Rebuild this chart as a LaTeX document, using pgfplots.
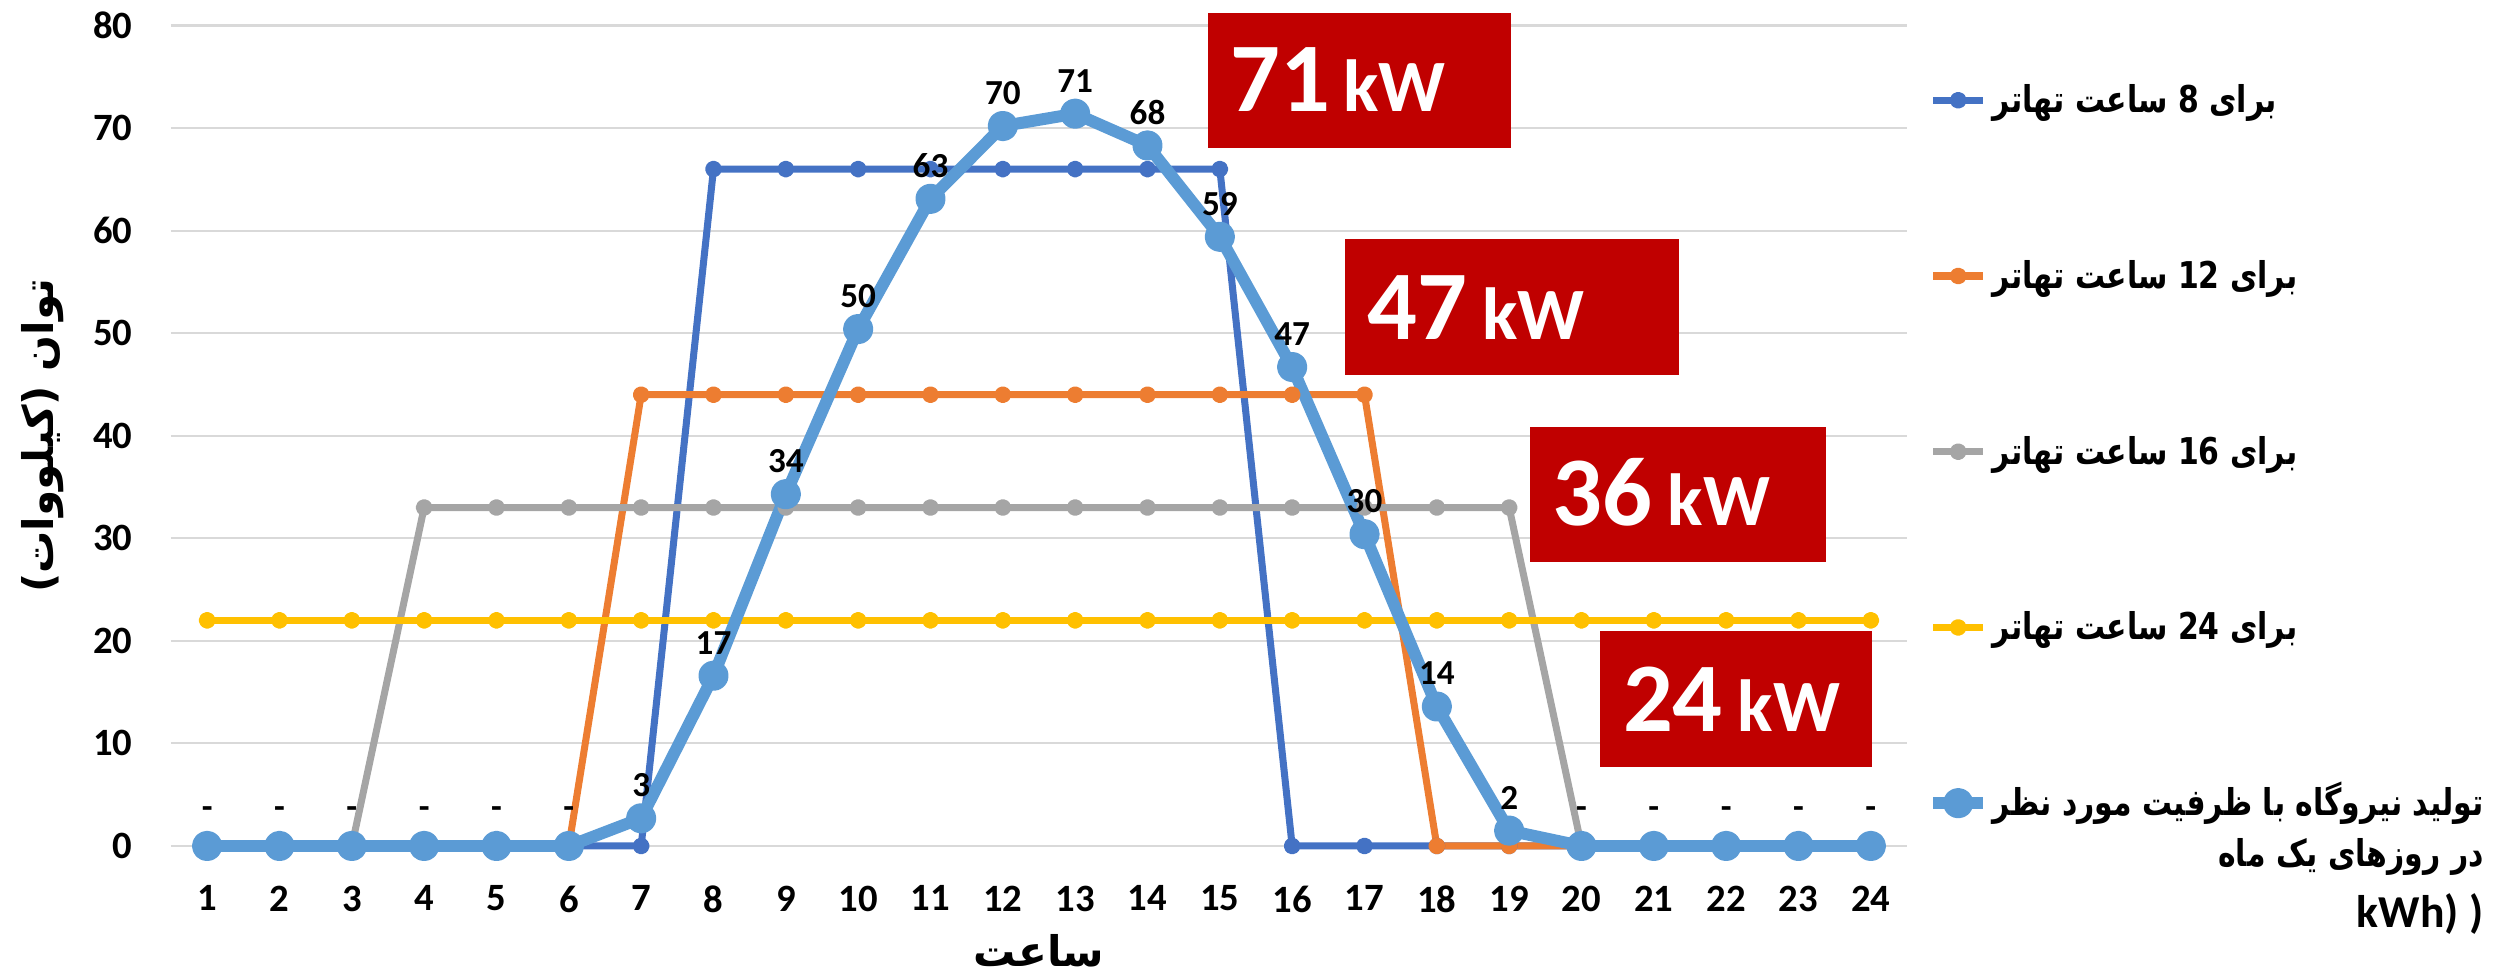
\documentclass[border=0pt]{standalone}
\usepackage{pgfplots}
\pgfplotsset{compat=1.18}
\usepackage{pgfplotstable}
\usepackage{fontspec}
\setmainfont{Carlito}
\newfontfamily\arabicfont[Script=Arabic]{DejaVu Sans}
\newfontfamily\arabicnarrow[Script=Arabic, FakeStretch=0.81]{DejaVu Sans Bold}
\TeXXeTstate=1
\definecolor{cA}{HTML}{4472C4}
\definecolor{cB}{HTML}{ED7D31}
\definecolor{cC}{HTML}{A5A5A5}
\definecolor{cD}{HTML}{FFC000}
\definecolor{cE}{HTML}{5B9BD5}
\definecolor{boxred}{HTML}{C00000}
\definecolor{gridgray}{HTML}{D9D9D9}

\pgfplotstableread{
x h8 h12 h16 h24 p lab
1 0 0 0 22 0 -
2 0 0 0 22 0 -
3 0 0 0 22 0 -
4 0 0 33 22 0 -
5 0 0 33 22 0 -
6 0 0 33 22 0 -
7 0 44 33 22 2.7 3
8 66 44 33 22 16.6 17
9 66 44 33 22 34.3 34
10 66 44 33 22 50.4 50
11 66 44 33 22 63.1 63
12 66 44 33 22 70.2 70
13 66 44 33 22 71.4 71
14 66 44 33 22 68.3 68
15 66 44 33 22 59.4 59
16 0 44 33 22 46.7 47
17 0 44 33 22 30.4 30
18 0 0 33 22 13.6 14
19 0 0 33 22 1.5 2
20 0 0 0 22 0 -
21 0 0 0 22 0 -
22 0 0 0 22 0 -
23 0 0 0 22 0 -
24 0 0 0 22 0 -
}\data

\begin{document}
\begin{tikzpicture}
\path[use as bounding box] (-1.71cm,-1.31cm) rectangle (23.31cm,8.46cm);
\begin{axis}[
  at={(0cm,0cm)}, anchor=south west,
  scale only axis, width=17.36cm, height=8.205cm,
  xmin=0.5, xmax=24.5, ymin=0, ymax=80,
  xtick={1,...,24}, ytick={0,10,...,80},
  axis line style={draw=none},
  ymajorgrids, grid style={draw=gridgray, line width=0.6pt},
  major tick length=0pt,
  clip=false,
  /pgf/number format/assume math mode=true,
  tick label style={font=\bfseries\fontsize{11}{13}\selectfont},
  yticklabel style={inner xsep=0pt, xshift=-0.38cm},
  xticklabel style={inner ysep=0pt, yshift=-0.39cm},
  xlabel={\arabicfont\bfseries\beginR ساعت\endR},
  xlabel style={at={(axis description cs:0.5,-0.128)}, anchor=center, font=\fontsize{12}{14}\selectfont},
  ylabel={\arabicfont\bfseries\beginR توان (کیلووات)\endR},
  ylabel style={at={(axis description cs:-0.0737,0.5)}, anchor=center, font=\fontsize{12}{14}\selectfont},
  legend cell align=left,
  legend image code/.code={\draw[mark repeat=2,mark phase=2,#1] plot coordinates {(0cm,0cm) (0.25cm,0cm) (0.5cm,0cm)};},
  legend style={at={(axis description cs:1,1)}, anchor=north west, xshift=0.09cm, yshift=-0.41cm,
    draw=none, fill=none, row sep=1.237cm,
    font=\arabicnarrow\fontsize{10.5}{12.5}\selectfont,
    nodes={inner sep=1pt, text height=0.35cm, text depth=0.1cm}},
  every axis plot/.append style={line join=round, mark=*, mark options={solid}},
  nodes near coords style={anchor=center, yshift=0.33cm, text=black, font=\bfseries\fontsize{10}{12}\selectfont},
]
\addplot[color=cA, line width=2pt, mark size=1.4pt] table[x=x,y=h8] {\data};
\addlegendentry{\beginR برای 8 ساعت تهاتر\endR}
\addplot[color=cB, line width=2pt, mark size=1.4pt] table[x=x,y=h12] {\data};
\addlegendentry{\beginR برای 12 ساعت تهاتر\endR}
\addplot[color=cC, line width=2pt, mark size=1.4pt] table[x=x,y=h16] {\data};
\addlegendentry{\beginR برای 16 ساعت تهاتر\endR}
\addplot[color=cD, line width=2pt, mark size=1.4pt] table[x=x,y=h24] {\data};
\addlegendentry{\beginR برای 24 ساعت تهاتر\endR}
\addplot[color=cE, line width=3.4pt, mark size=2.6pt, nodes near coords, point meta=explicit symbolic] table[x=x,y=p,meta=lab] {\data};
\addlegendentry{\begin{tabular}[t]{@{}r@{}}\beginR تولید نیروگاه با ظرفیت مورد نظر\endR\\[2pt] \beginR در  روزهای یک ماه\endR\\[4pt] {\rmfamily\bfseries\fontsize{13}{14}\selectfont kWh) )}\end{tabular}}

\fill[boxred] (axis cs:14.837,68.06) rectangle (axis cs:19.026,81.22);
\node[anchor=base west, text=white, inner sep=0pt, font=\bfseries\fontsize{28}{30}\selectfont] at ([xshift=0.22cm,yshift=0.36cm]axis cs:14.837,68.06) {71\hspace{0.13cm}{\fontsize{21}{22}\selectfont kW}};
\fill[boxred] (axis cs:16.73,45.92) rectangle (axis cs:21.35,59.18);
\node[anchor=base west, text=white, inner sep=0pt, font=\bfseries\fontsize{28}{30}\selectfont] at ([xshift=0.22cm,yshift=0.36cm]axis cs:16.73,45.92) {47\hspace{0.15cm}{\fontsize{21}{22}\selectfont kW}};
\fill[boxred] (axis cs:19.29,27.69) rectangle (axis cs:23.38,40.85);
\node[anchor=base west, text=white, inner sep=0pt, font=\bfseries\fontsize{28}{30}\selectfont] at ([xshift=0.22cm,yshift=0.36cm]axis cs:19.29,27.69) {36\hspace{0.15cm}{\fontsize{21}{22}\selectfont kW}};
\fill[boxred] (axis cs:20.26,7.70) rectangle (axis cs:24.02,20.96);
\node[anchor=base west, text=white, inner sep=0pt, font=\bfseries\fontsize{28}{30}\selectfont] at ([xshift=0.22cm,yshift=0.36cm]axis cs:20.26,7.70) {24\hspace{0.15cm}{\fontsize{21}{22}\selectfont kW}};
\end{axis}
\end{tikzpicture}
\end{document}
